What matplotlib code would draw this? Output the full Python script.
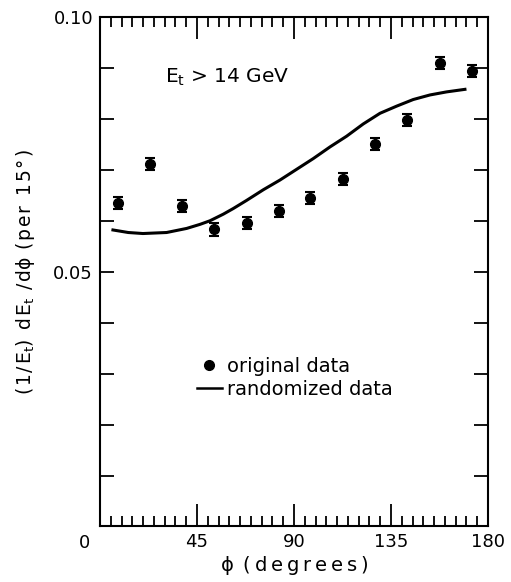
import numpy as np
import matplotlib.pyplot as plt
from matplotlib.lines import Line2D

plt.rcParams['font.family'] = ['DejaVu Sans']
plt.rcParams['mathtext.default'] = 'regular'

# original data (15 degree bins)
phi = [8.5, 23, 38, 53, 68, 83, 97.5, 112.5, 127.5, 142.5, 157.5, 172.5]
orig = [0.0635, 0.0711, 0.0629, 0.0583, 0.0596, 0.0619, 0.0644, 0.0682, 0.0750, 0.0798, 0.0909, 0.0894]
orig_err = [0.0012] * 12

# randomized data curve
phi_rand = [6.0, 13.1, 19.9, 30.9, 40.2, 46.4, 51.0, 57.2, 61.8, 68.0, 75.8, 83.5,
            91.2, 98.9, 106.7, 114.4, 122.1, 129.9, 137.6, 145.3, 153.1, 160.8, 169.3]
rand = [0.0582, 0.0577, 0.0575, 0.0577, 0.0585, 0.0593, 0.0600, 0.0613, 0.0624, 0.0640,
        0.0661, 0.0680, 0.0701, 0.0722, 0.0745, 0.0766, 0.0790, 0.0811, 0.0825, 0.0838,
        0.0847, 0.0853, 0.0858]

xticks = [0, 45, 90, 135, 180]
xticklabels = ['', '45', '90', '135', '180']
yticks = [0, 0.01, 0.02, 0.03, 0.04, 0.05, 0.06, 0.07, 0.08, 0.09, 0.10]
yticklabels = ['', '', '', '', '', '0.05', '', '', '', '', '0.10']


def spread(s, gap='\u200a'):
    # wide letter spacing like the old lettering, math parts left alone
    parts = s.split('$')
    out = []
    for i, p in enumerate(parts):
        out.append(gap.join(p) if i % 2 == 0 else p)
    return '$'.join(out)


def plotChart():
    fig = plt.figure(figsize=(5.11, 5.82), dpi=100)
    ax = fig.add_axes([0.1957, 0.0954, 0.7593, 0.8754])

    ax.errorbar(phi, orig, yerr=orig_err, fmt='o', color='black', ms=7,
                elinewidth=1.5, capsize=3.5, capthick=1.5)
    ax.plot(phi_rand, rand, color='black', lw=2.2)

    ax.set_xlim(0, 180)
    ax.set_ylim(0, 0.10)

    ax.set_xticks(xticks)
    ax.set_xticklabels(xticklabels)
    ax.set_xticks(np.arange(0, 181, 5), minor=True)
    ax.set_yticks(yticks)
    ax.set_yticklabels(yticklabels)
    ax.tick_params(axis='both', which='major', direction='in', top=True, right=True,
                   labelsize=13, width=1.3, pad=5)
    ax.tick_params(axis='x', which='major', length=16)
    ax.tick_params(axis='y', which='major', length=10)
    ax.tick_params(axis='x', which='minor', direction='in', top=True, length=7, width=1.3)
    for s in ax.spines.values():
        s.set_linewidth(1.5)

    # shared zero at the corner
    ax.text(-7, -0.0032, '0', fontsize=13, ha='center', va='center')

    ax.text(30, 0.0882, r'E$_t$ > 14 GeV', fontsize=14.5, ha='left', va='center')

    ax.set_xlabel(spread(r'$\phi$ (degrees)', '\u2009'), fontsize=14, labelpad=2)
    ax.set_ylabel(spread(r'(1/E$_t$) dE$_t$ /d$\phi$ (per 15°)'), fontsize=13.5, labelpad=12)

    handles = [Line2D([], [], marker='o', color='black', ls='none', ms=7),
               Line2D([], [], color='black', lw=1.8)]
    ax.legend(handles, ['original data', 'randomized data'],
              loc='center left', bbox_to_anchor=(0.204, 0.291), frameon=False,
              fontsize=14, handlelength=1.3, handletextpad=0.25, labelspacing=0.2)

    fig.savefig('out.png', dpi=100)


def main():
    plotChart()


if __name__ == "__main__":
    main()
